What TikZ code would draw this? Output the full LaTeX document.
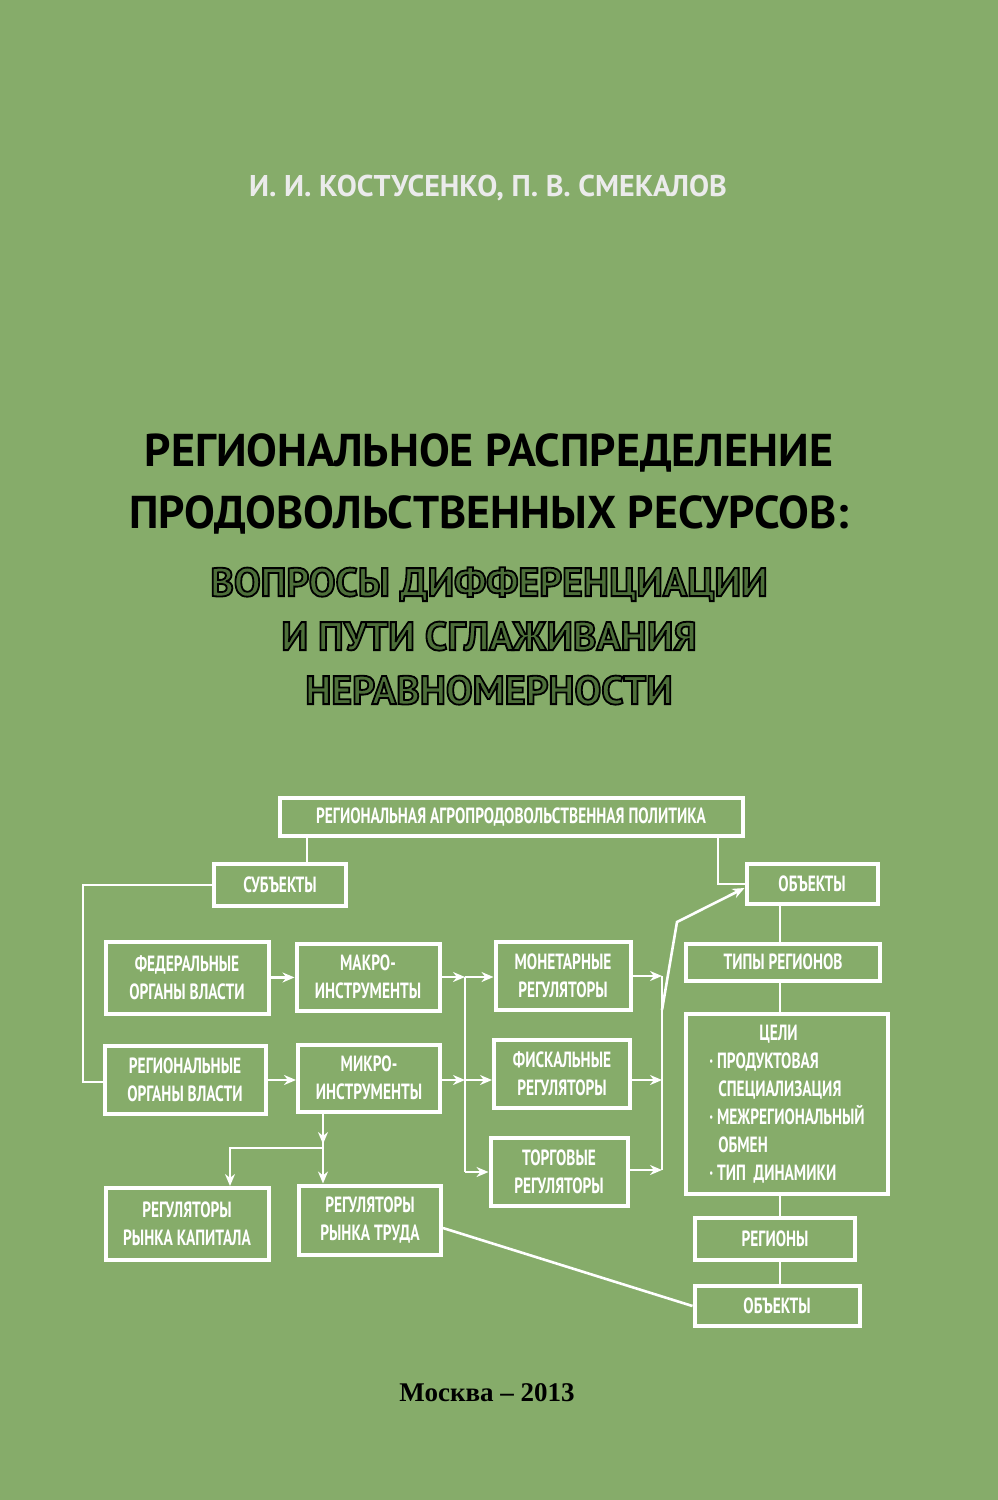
\documentclass[tikz,border=0pt]{standalone}
\usepackage{fontspec}
\setmainfont{PT Sans}
\newfontfamily\condfont{PT Sans}[FakeStretch=0.7]
\newfontfamily\cityfont{Liberation Serif}
\usetikzlibrary{arrows.meta}
\definecolor{cover}{RGB}{134,172,106}
\definecolor{deepgreen}{RGB}{78,112,58}
\newcommand\outlinedon{\special{pdf:literal 2 Tr 1.8 w 0 0 0 RG}}
\newcommand\outlinedoff{\special{pdf:literal 0 Tr}}
\tikzset{
  box/.style = {draw=white, line width=4pt, text=white, align=center, inner sep=0pt,
    font=\condfont\bfseries\fontsize{22}{28}\selectfont},
  link/.style = {draw=white, line width=2.6pt},
  arr/.style = {link, -{Stealth[length=12pt,width=10pt]}}
}
\begin{document}
\begin{tikzpicture}[x=1pt,y=-1pt]
\useasboundingbox[fill=cover] (0,0) rectangle (998,1500);
% heading
\node[text=white!92!black, font=\bfseries\fontsize{30}{36}\selectfont] (authors) at (488,188) {И. И. КОСТУСЕНКО, П. В. СМЕКАЛОВ};
\node[font=\bfseries\fontsize{46}{62}\selectfont, align=center] (title) at (489,484)
  {РЕГИОНАЛЬНОЕ РАСПРЕДЕЛЕНИЕ\\ПРОДОВОЛЬСТВЕННЫХ РЕСУРСОВ:};
\node[text=deepgreen, font=\bfseries\fontsize{40}{54}\selectfont, align=center] (subtitle) at (489,636)
  {\outlinedon ВОПРОСЫ ДИФФЕРЕНЦИАЦИИ\\\outlinedon И ПУТИ СГЛАЖИВАНИЯ\\\outlinedon НЕРАВНОМЕРНОСТИ\outlinedoff};
% scheme
\node[box, minimum width=463, minimum height=38] (policy) at (511,817) {РЕГИОНАЛЬНАЯ АГРОПРОДОВОЛЬСТВЕННАЯ ПОЛИТИКА};
\node[box, minimum width=132, minimum height=42] (subj) at (280,885) {СУБЪЕКТЫ};
\node[box, minimum width=131, minimum height=40] (obj) at (812,884) {ОБЪЕКТЫ};
\node[box, minimum width=163, minimum height=72] (fed) at (187,978) {ФЕДЕРАЛЬНЫЕ\\ОРГАНЫ ВЛАСТИ};
\node[box, minimum width=143, minimum height=67] (macro) at (368,977) {МАКРО-\\ИНСТРУМЕНТЫ};
\node[box, minimum width=135, minimum height=68] (monet) at (563,976) {МОНЕТАРНЫЕ\\РЕГУЛЯТОРЫ};
\node[box, minimum width=194, minimum height=37] (types) at (783,962) {ТИПЫ РЕГИОНОВ};
\node[box, minimum width=161, minimum height=68] (reg) at (185,1080) {РЕГИОНАЛЬНЫЕ\\ОРГАНЫ ВЛАСТИ};
\node[box, minimum width=142, minimum height=67] (micro) at (369,1078) {МИКРО-\\ИНСТРУМЕНТЫ};
\node[box, minimum width=136, minimum height=68] (fisc) at (562,1074) {ФИСКАЛЬНЫЕ\\РЕГУЛЯТОРЫ};
\node[box, minimum width=137, minimum height=68] (trade) at (559,1172) {ТОРГОВЫЕ\\РЕГУЛЯТОРЫ};
\node[box, minimum width=202, minimum height=180, align=left] (goals) at (787,1104)
  {\hspace*{50pt}ЦЕЛИ\\· ПРОДУКТОВАЯ\\\hspace*{9pt}СПЕЦИАЛИЗАЦИЯ\\· МЕЖРЕГИОНАЛЬНЫЙ\\\hspace*{9pt}ОБМЕН\\· ТИП\ \ ДИНАМИКИ};
\node[box, minimum width=163, minimum height=72] (capital) at (187,1224) {РЕГУЛЯТОРЫ\\РЫНКА КАПИТАЛА};
\node[box, minimum width=142, minimum height=69] (labour) at (370,1220) {РЕГУЛЯТОРЫ\\РЫНКА ТРУДА};
\node[box, minimum width=160, minimum height=42] (regions) at (775,1239) {РЕГИОНЫ};
\node[box, minimum width=165, minimum height=40] (objb) at (777,1306) {ОБЪЕКТЫ};
\coordinate (jl) at (465,977);
\coordinate (jr) at (662,1010);
\coordinate (jm) at (323,1148);
% connectors
\draw[link] (policy.south -| 307,0) -- (subj.north -| 307,0);
\draw[link] (policy.south -| 718,0) |- (obj.west);
\draw[link] (subj.west) -| (83,1082) -- (reg.west |- 0,1082);
\draw[arr] (fed) -- (macro);
\draw[arr] (reg) -- (micro.west |- reg);
\draw[arr] (macro.east) -- (jl);
\draw[arr] (jl) -- (monet.west |- jl);
\draw[link] (jl) -- (465,1172);
\draw[arr] (465,1172) -- (trade.west |- 0,1172);
\draw[arr] (micro.east |- 0,1080) -- (465,1080);
\draw[arr] (465,1080) -- (fisc.west |- 0,1080);
\draw[arr] (monet.east) -- (662,976);
\draw[arr] (fisc.east |- 0,1080) -- (662,1080);
\draw[arr] (trade.east |- 0,1170) -- (662,1170);
\draw[link] (662,976) -- (662,1170);
\draw[arr] (jr) -- (677,922) -- (obj.west |- 0,888);
\draw[arr] (micro.south -| jm) -- (323,1144);
\draw[arr] (323,1140) -- (labour.north -| jm);
\draw[arr] (jm) -| (capital.north -| 230,0);
\draw[link] (labour.east |- 0,1228) -- (objb.west);
\draw[link] (obj.south -| 780,0) -- (types.north -| 780,0);
\draw[link] (types.south -| 780,0) -- (goals.north -| 780,0);
\draw[link] (goals.south -| 780,0) -- (regions.north -| 780,0);
\draw[link] (regions.south -| 780,0) -- (objb.north -| 780,0);
% footer
\node[font=\cityfont\bfseries\fontsize{27}{32}\selectfont] (city) at (487,1393) {Москва – 2013};
\end{tikzpicture}
\end{document}
